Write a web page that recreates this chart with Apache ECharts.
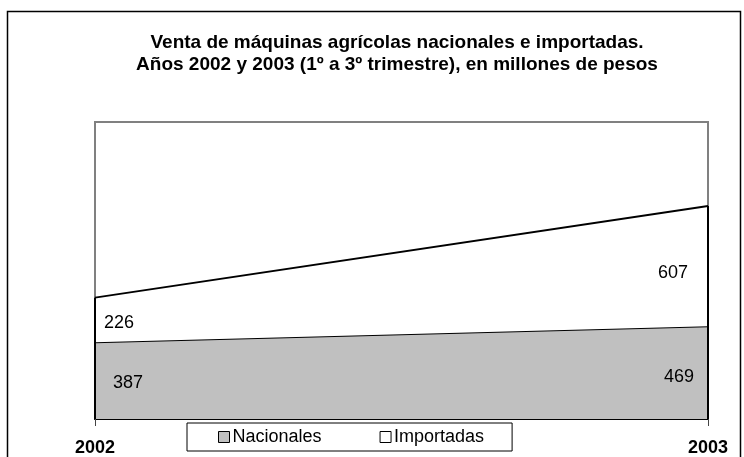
<!DOCTYPE html>
<html>
<head>
<meta charset="utf-8">
<script src="https://cdn.jsdelivr.net/npm/echarts@6/dist/echarts.min.js"></script>
<style>
html,body{margin:0;padding:0;background:#fff;}
#chart{width:744px;height:457px;}
</style>
</head>
<body>
<div id="chart"></div>
<script>
var categories = ['2002', '2003'];
var nacionales = [387, 469];
var importadas = [226, 607];
var seriesNames = ['Nacionales', 'Importadas'];
var titleText = 'Venta de máquinas agrícolas nacionales e importadas.\nAños 2002 y 2003 (1º a 3º trimestre), en millones de pesos';

var FONT = '"Liberation Sans", Arial, sans-serif';
var nacOffsets = [[33, 41], [-29, 51]];
var impOffsets = [[24, 25], [-35, 67]];

function items(values, offsets) {
  return values.map(function (v, i) {
    return { value: v, label: { offset: offsets[i] } };
  });
}
var totals = nacionales.map(function (v, i) { return v + importadas[i]; });

var chart = echarts.init(document.getElementById('chart'));
chart.setOption({
  animation: false,
  backgroundColor: '#fff',
  title: {
    text: titleText,
    left: 397,
    textAlign: 'center',
    top: 32,
    padding: 0,
    textStyle: { fontFamily: FONT, fontSize: 19, fontWeight: 'bold', color: '#000', lineHeight: 22 }
  },
  graphic: [{
    type: 'rect',
    shape: { x: 7.5, y: 11.5, width: 733, height: 470 },
    style: { fill: 'none', stroke: '#000', lineWidth: 1.5 },
    silent: true
  }],
  legend: {
    left: 187,
    top: 423,
    icon: 'rect',
    itemWidth: 11,
    itemHeight: 11,
    itemGap: 58,
    padding: [4, 28, 4, 31],
    backgroundColor: '#fff',
    borderColor: '#000',
    borderWidth: 1,
    borderRadius: 0,
    textStyle: { fontFamily: FONT, fontSize: 18, color: '#000', lineHeight: 20, padding: [0, 0, 0, -2] },
    data: [
      { name: seriesNames[0], itemStyle: { color: '#c0c0c0', borderColor: '#000', borderWidth: 1 } },
      { name: seriesNames[1], itemStyle: { color: '#ffffff', borderColor: '#000', borderWidth: 1 } }
    ]
  },
  grid: {
    left: 95, right: 36, top: 122, bottom: 38,
    show: true, backgroundColor: '#fff', borderColor: '#808080', borderWidth: 2
  },
  xAxis: {
    type: 'category',
    data: categories,
    boundaryGap: false,
    axisLine: { lineStyle: { color: '#000', width: 2 } },
    axisTick: { show: true, length: 7, lineStyle: { color: '#444', width: 1 } },
    axisLabel: { fontFamily: FONT, fontSize: 18, fontWeight: 'bold', color: '#000', margin: 20 },
    splitLine: { show: false }
  },
  yAxis: {
    type: 'value', min: 0, max: 1500, show: false,
    splitLine: { show: false }
  },
  series: [
    {
      name: seriesNames[0],
      type: 'line',
      stack: 'total',
      data: items(nacionales, nacOffsets),
      symbol: 'circle',
      symbolSize: 0,
      lineStyle: { color: '#000', width: 2 },
      itemStyle: { color: '#c0c0c0', borderColor: '#000', borderWidth: 1 },
      areaStyle: { color: '#c0c0c0', opacity: 1 },
      label: { show: true, position: 'inside', fontFamily: FONT, fontSize: 18, color: '#000' },
      z: 2
    },
    {
      name: seriesNames[1],
      type: 'line',
      stack: 'total',
      data: items(importadas, impOffsets),
      symbol: 'circle',
      symbolSize: 0,
      lineStyle: { color: '#000', width: 2 },
      itemStyle: { color: '#ffffff', borderColor: '#000', borderWidth: 1 },
      areaStyle: { color: '#ffffff', opacity: 1 },
      label: { show: true, position: 'inside', fontFamily: FONT, fontSize: 18, color: '#000' },
      markLine: {
        silent: true,
        symbol: 'none',
        label: { show: false },
        lineStyle: { color: '#000', width: 2, type: 'solid' },
        data: categories.map(function (c, i) {
          return [{ coord: [c, 0] }, { coord: [c, totals[i]] }];
        })
      },
      z: 3
    }
  ]
});
</script>
</body>
</html>
